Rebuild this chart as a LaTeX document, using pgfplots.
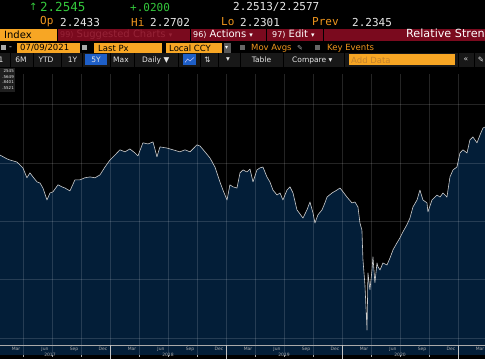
\documentclass[border=0pt]{standalone}
\usepackage{pgfplots}
\pgfplotsset{compat=1.18}
\usepackage{pgfplotstable}
\usepackage{fontspec}
\setmainfont{DejaVu Sans}
\newfontfamily\mono{DejaVu Sans Mono}
\definecolor{bbgreen}{RGB}{52,200,60}
\definecolor{bbwhite}{RGB}{232,232,232}
\definecolor{bbamber}{RGB}{240,150,30}
\definecolor{bbbox}{RGB}{247,166,36}
\definecolor{bbmaroon}{RGB}{122,10,30}
\definecolor{bbdim}{RGB}{150,35,55}
\definecolor{bbbar}{RGB}{24,24,24}
\definecolor{bbblue}{RGB}{30,95,200}
\definecolor{bbnavy}{RGB}{3,30,56}
\definecolor{bbline}{RGB}{205,205,205}
\definecolor{bbgray}{RGB}{170,170,170}
\definecolor{bbaddtxt}{RGB}{195,130,45}

\pgfplotstableread{
t v
2017.052 2.227
2017.112 2.214
2017.138 2.210
2017.164 2.207
2017.198 2.203
2017.224 2.193
2017.250 2.183
2017.284 2.149
2017.310 2.166
2017.336 2.152
2017.371 2.135
2017.397 2.131
2017.422 2.114
2017.457 2.073
2017.483 2.097
2017.509 2.101
2017.552 2.125
2017.586 2.118
2017.612 2.114
2017.655 2.104
2017.698 2.142
2017.741 2.142
2017.784 2.149
2017.828 2.152
2017.871 2.149
2017.914 2.159
2017.957 2.186
2018.000 2.210
2018.043 2.227
2018.086 2.245
2018.129 2.238
2018.172 2.248
2018.216 2.234
2018.241 2.224
2018.284 2.269
2018.328 2.265
2018.371 2.272
2018.405 2.221
2018.431 2.255
2018.491 2.251
2018.543 2.245
2018.603 2.238
2018.647 2.245
2018.690 2.238
2018.750 2.262
2018.776 2.258
2018.819 2.238
2018.862 2.217
2018.905 2.186
2018.948 2.135
2018.974 2.107
2019.009 2.073
2019.034 2.125
2019.060 2.118
2019.095 2.114
2019.121 2.166
2019.147 2.176
2019.181 2.169
2019.207 2.179
2019.233 2.135
2019.267 2.176
2019.293 2.183
2019.319 2.186
2019.353 2.152
2019.379 2.135
2019.405 2.107
2019.440 2.090
2019.466 2.097
2019.491 2.073
2019.526 2.107
2019.552 2.118
2019.578 2.097
2019.612 2.039
2019.638 2.025
2019.664 2.011
2019.698 2.039
2019.724 2.066
2019.750 2.029
2019.767 1.994
2019.793 2.022
2019.828 2.039
2019.853 2.063
2019.871 2.083
2019.914 2.097
2019.957 2.107
2019.983 2.114
2020.009 2.101
2020.043 2.083
2020.086 2.063
2020.112 2.066
2020.138 2.049
2020.155 1.994
2020.172 1.970
2020.181 1.868
2020.198 1.782
2020.216 1.627
2020.224 1.823
2020.241 1.765
2020.259 1.833
2020.267 1.878
2020.284 1.789
2020.302 1.857
2020.310 1.844
2020.328 1.833
2020.353 1.857
2020.388 1.850
2020.414 1.874
2020.440 1.902
2020.474 1.926
2020.500 1.943
2020.526 1.964
2020.560 1.988
2020.586 2.011
2020.612 2.049
2020.647 2.073
2020.672 2.107
2020.698 2.073
2020.733 2.063
2020.741 2.032
2020.776 2.073
2020.819 2.090
2020.845 2.083
2020.871 2.097
2020.905 2.083
2020.931 2.152
2020.957 2.176
2020.991 2.186
2021.017 2.234
2021.043 2.245
2021.078 2.234
2021.103 2.279
2021.129 2.289
2021.164 2.269
2021.190 2.296
2021.216 2.320
2021.233 2.323
}\series

\begin{document}
\begin{tikzpicture}[x=1pt,y=1pt]
\fill[black] (0,0) rectangle (485,359);
\useasboundingbox (0,0) rectangle (485,359);

% ---- row 1
\node[anchor=west,inner sep=0pt,text=bbgreen,font=\fontsize{10}{12}\selectfont] at (29,352) {↑};
\node[anchor=west,inner sep=0pt,text=bbgreen,font=\mono\fontsize{12.5}{14}\selectfont] at (40,352) {2.2545};
\node[anchor=west,inner sep=0pt,text=bbgreen,font=\mono\fontsize{11}{13}\selectfont] at (130,352) {+.0200};
\node[anchor=west,inner sep=0pt,text=bbwhite,font=\mono\fontsize{11}{13}\selectfont] at (233,352) {2.2513/2.2577};
% ---- row 2
\begin{scope}[every node/.style={anchor=west,inner sep=0pt,font=\mono\fontsize{11}{13}\selectfont}]
\node[text=bbamber] at (40,337) {Op};
\node[text=bbwhite] at (60,337) {2.2433};
\node[text=bbamber] at (131,337) {Hi};
\node[text=bbwhite] at (150,337) {2.2702};
\node[text=bbamber] at (221,337) {Lo};
\node[text=bbwhite] at (240,337) {2.2301};
\node[text=bbamber] at (312,337) {Prev};
\node[text=bbwhite] at (352,337) {2.2345};
\end{scope}
% ---- row 3
\fill[bbbox] (0,318.3) rectangle (57,330.3);
\fill[bbmaroon] (58,318.3) rectangle (485,330.3);
\foreach \s in {190,266,323} \draw[black,line width=1pt] (\s,318.3) -- (\s,330.3);
\begin{scope}[every node/.style={anchor=west,inner sep=0pt,font=\fontsize{10}{12}\selectfont}]
\node[text=black] at (4,324.3) {Index};
\node[text=bbdim] at (60,324.3) {{\fontsize{8}{9}\selectfont 99)} Suggested Charts {\fontsize{7}{8}\selectfont ▾}};
\node[text=white] at (193,324.3) {{\fontsize{8}{9}\selectfont 96)} Actions {\fontsize{7}{8}\selectfont ▾}};
\node[text=white] at (272,324.3) {{\fontsize{8}{9}\selectfont 97)} Edit {\fontsize{7}{8}\selectfont ▾}};
\node[text=white,font=\fontsize{11.2}{13}\selectfont] at (406,324.3) {Relative Strength};
\end{scope}
% ---- row 4
\fill[bbgray] (1,308.5) rectangle (6,313.5);
\node[anchor=west,inner sep=0pt,text=bbwhite,font=\fontsize{8}{9}\selectfont] at (9,311) {-};
\fill[bbbox] (17,306) rectangle (80,316);
\fill[bbgray] (82,308.5) rectangle (87,313.5);
\fill[bbbox] (94,306) rectangle (162,316);
\fill[bbbox] (166,306) rectangle (222,316);
\fill[black!65] (224,306) rectangle (231,316);
\fill[black!60] (240,308.5) rectangle (245,313.5);
\fill[black!60] (315,308.5) rectangle (320,313.5);
\begin{scope}[every node/.style={anchor=west,inner sep=0pt,font=\fontsize{8.5}{10}\selectfont}]
\node[text=black] at (20,311) {07/09/2021};
\node[text=black] at (98,311) {Last Px};
\node[text=black] at (169,311) {Local CCY};
\node[text=white,font=\fontsize{6}{7}\selectfont] at (225,311) {▾};
\node[text=bbamber] at (251,311) {Mov Avgs};
\node[text=bbgray,font=\fontsize{7}{8}\selectfont] at (297,311) {✎};
\node[text=bbamber] at (327,311) {Key Events};
\end{scope}
% ---- row 5
\fill[bbbar] (0,292) rectangle (485,306);
\foreach \s in {10,33,61,82,110,134,178,200,218,240,283,344,458,474} \draw[black,line width=0.8pt] (\s,292) -- (\s,306);
\fill[bbblue] (85,293.5) rectangle (107,304.5);
\fill[bbblue] (183,293.5) rectangle (196,304.5);
\draw[white!80!blue,line width=0.5pt] (185,296.5) -- (187.5,300) -- (190,298) -- (194,301.5);
\fill[bbbox] (349,293.5) rectangle (455,304.5);
\begin{scope}[every node/.style={inner sep=0pt,text=bbwhite,font=\fontsize{7.5}{9}\selectfont}]
\node at (1,299) {1};
\node at (21,299) {6M};
\node at (46,299) {YTD};
\node at (72.5,299) {1Y};
\node at (96,299) {5Y};
\node at (121,299) {Max};
\node[anchor=west] at (142,299) {Daily ▼};
\node at (207.5,299) {⇅};
\node at (228,299) {▾};
\node at (261.5,299) {Table};
\node[anchor=west] at (292,299) {Compare ▾};
\node[anchor=west,text=bbaddtxt,font=\fontsize{8.5}{10}\selectfont] at (351,299) {Add Data};
\node at (466,299) {«};
\node at (481,299) {✎};
\end{scope}

% ---- chart
\begin{axis}[
  at={(0,14)}, anchor=south west,
  width=485pt, height=281pt, scale only axis,
  xmin=2017.052, xmax=2021.233,
  ymin=1.5417, ymax=2.5052,
  axis background/.style={fill=black},
  axis on top,
  axis line style={draw=none},
  xtick={2017.25,2017.5,2017.75,2018,2018.25,2018.5,2018.75,2019,2019.25,2019.5,2019.75,2020,2020.25,2020.5,2020.75,2021},
  xticklabels={},
  ytick={1.6,1.8,2.0,2.2,2.4},
  yticklabels={},
  ytick style={draw=none},
  xtick pos=lower,
  tick align=outside,
  major tick length=2pt,
  xtick style={bbgray,line width=0.4pt},
  grid=major,
  major grid style={white,opacity=0.14,line width=0.6pt},
]
\addplot[fill=bbnavy,draw=none] table[x=t,y=v] {\series} \closedcycle;
\addplot[bbline,line width=0.6pt,line join=round] table[x=t,y=v] {\series};
\end{axis}

% bottom axis strip
\draw[bbgray,line width=0.5pt] (0,14) -- (485,14);
\foreach \s in {110,226,342,458} \draw[bbgray!70,line width=0.4pt] (\s,0) -- (\s,14);
\begin{scope}[every node/.style={inner sep=0pt,text=bbgray,font=\fontsize{4.5}{5}\selectfont}]
\foreach \m [count=\i from 0] in {Mar,Jun,Sep,Dec,Mar,Jun,Sep,Dec,Mar,Jun,Sep,Dec,Mar,Jun,Sep,Dec,Mar}
  \node at ({16+29*\i},10) {\m};
\node at (50,4.5) {2017};
\node at (168,4.5) {2018};
\node at (284,4.5) {2019};
\node at (400,4.5) {2020};
\end{scope}

% legend box
\fill[black!88] (0,267) rectangle (15,291);
\begin{scope}[every node/.style={anchor=east,inner sep=0pt,text=bbwhite,font=\fontsize{4}{4.5}\selectfont}]
\node at (14,287.5) {2545};
\node at (14,282) {.5649};
\node at (14,276.5) {.8401};
\node at (14,271) {.5521};
\end{scope}
\end{tikzpicture}
\end{document}
